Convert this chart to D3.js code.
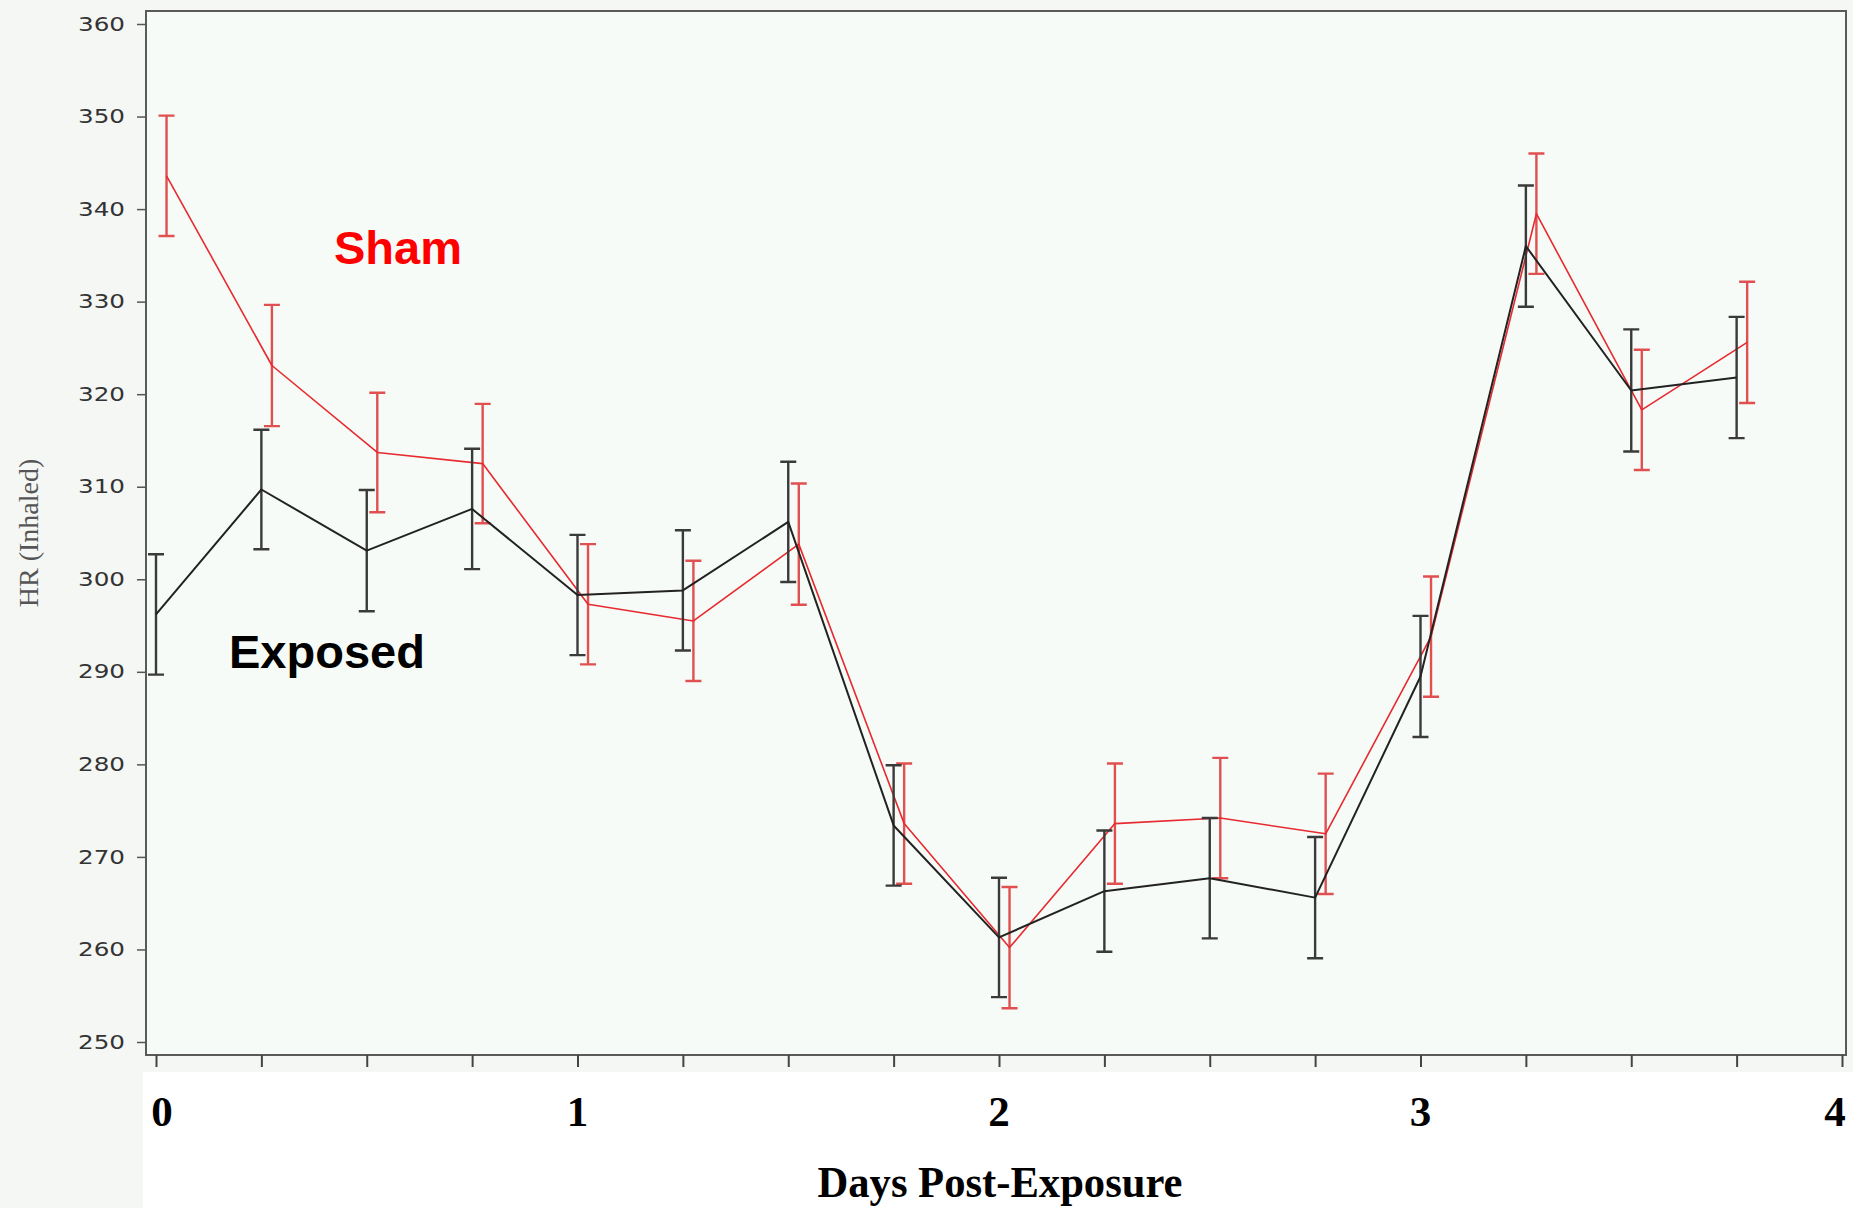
<!DOCTYPE html>
<html><head><meta charset="utf-8">
<script src="https://cdn.jsdelivr.net/npm/d3@7"></script>
<style>html,body{margin:0;padding:0;background:#f4f7f4;} svg{display:block}</style>
</head><body>
<svg id="c" width="1853" height="1208"></svg>
<script>
// ---- data ----
const days        = [0, 0.25, 0.5, 0.75, 1, 1.25, 1.5, 1.75, 2, 2.25, 2.5, 2.75, 3, 3.25, 3.5, 3.75];
const exposedMean = [296.2, 309.7, 303.1, 307.6, 298.3, 298.8, 306.2, 273.4, 261.3, 266.3, 267.7, 265.6, 289.5, 336.0, 320.4, 321.8];
const exposedSE   = [6.5, 6.45, 6.55, 6.5, 6.5, 6.5, 6.5, 6.5, 6.45, 6.55, 6.5, 6.55, 6.55, 6.55, 6.6, 6.55];
const shamMean    = [343.6, 323.1, 313.7, 312.5, 297.3, 295.5, 303.8, 273.6, 260.2, 273.6, 274.2, 272.5, 293.8, 339.5, 318.3, 325.6];
const shamSE      = [6.5, 6.55, 6.45, 6.45, 6.5, 6.5, 6.55, 6.5, 6.55, 6.5, 6.5, 6.5, 6.5, 6.5, 6.5, 6.55];
const yTickValues = [250, 260, 270, 280, 290, 300, 310, 320, 330, 340, 350, 360];
const xTickValues = [0, 0.25, 0.5, 0.75, 1, 1.25, 1.5, 1.75, 2, 2.25, 2.5, 2.75, 3, 3.25, 3.5, 3.75, 4];
const xTickLabels = [0, 1, 2, 3, 4];
const xTitle = "Days Post-Exposure";
const yTitle = "HR (Inhaled)";
const seriesLabels = ["Sham", "Exposed"];

// ---- layout ----
const svg = d3.select("#c");
const W = 1853, H = 1208;
const frame = {left: 146, right: 1846, top: 11, bottom: 1055};
const x = d3.scaleLinear().domain([0, 4]).range([156, 1842]);
const y = d3.scaleLinear().domain([250, 360]).range([1042, 24]);
const dodge = 0.025; // sham drawn slightly to the right

// backgrounds
svg.append("rect").attr("x",0).attr("y",0).attr("width",W).attr("height",H).attr("fill","#f4f7f4");
svg.append("rect").attr("x",143).attr("y",1072).attr("width",W-143).attr("height",H-1072).attr("fill","#ffffff");
svg.append("rect").attr("x",frame.left).attr("y",frame.top)
  .attr("width",frame.right-frame.left).attr("height",frame.bottom-frame.top)
  .attr("fill","#f7fbf7").attr("stroke","#5a5a5a").attr("stroke-width",2);

// y axis
const yAxis = d3.axisLeft(y).tickValues(yTickValues).tickSize(9).tickPadding(12);
const gy = svg.append("g").attr("transform",`translate(${frame.left},0)`).call(yAxis);
gy.select(".domain").remove();
gy.selectAll(".tick line").attr("stroke","#555").attr("stroke-width",1.5);
gy.selectAll(".tick text")
  .attr("font-family","'DejaVu Sans', Verdana, sans-serif").attr("font-size",19)
  .attr("fill","#333").attr("textLength",47).attr("lengthAdjust","spacingAndGlyphs");

// x axis
const xAxis = d3.axisBottom(x).tickValues(xTickValues).tickSize(12).tickFormat("");
const gx = svg.append("g").attr("transform",`translate(0,${frame.bottom})`).call(xAxis);
gx.select(".domain").remove();
gx.selectAll(".tick line").attr("stroke","#444").attr("stroke-width",2);

svg.append("g").selectAll("text").data(xTickLabels).join("text")
  .attr("x", d => Math.min(1835, Math.max(162, x(d)))).attr("y", 1126).attr("text-anchor","middle")
  .attr("font-family","'Liberation Serif','Times New Roman',serif").attr("font-weight","bold")
  .attr("font-size",43).attr("fill","#000").text(d => d);

svg.append("text").attr("x",1000).attr("y",1197).attr("text-anchor","middle")
  .attr("font-family","'Liberation Serif','Times New Roman',serif").attr("font-weight","bold")
  .attr("font-size",44).attr("fill","#000")
  .attr("textLength",365).attr("lengthAdjust","spacingAndGlyphs").text(xTitle);

svg.append("text").attr("transform","translate(38,533) rotate(-90)").attr("text-anchor","middle")
  .attr("font-family","'Liberation Serif','Times New Roman',serif")
  .attr("font-size",28).attr("fill","#555").text(yTitle);

// series
function drawSeries(means, se, off, lineColor, lineW, barColor, barW) {
  const pts = days.map((d,i) => ({d: d + off, m: means[i], s: se[i]}));
  const g = svg.append("g");
  const cap = 8;
  g.selectAll(".eb").data(pts).join("path")
    .attr("d", p => `M${x(p.d)},${y(p.m+p.s)}V${y(p.m-p.s)}` +
      `M${x(p.d)-cap},${y(p.m+p.s)}H${x(p.d)+cap}` +
      `M${x(p.d)-cap},${y(p.m-p.s)}H${x(p.d)+cap}`)
    .attr("fill","none").attr("stroke",barColor).attr("stroke-width",barW);
  const line = d3.line().x(p => x(p.d)).y(p => y(p.m));
  g.append("path").datum(pts).attr("d",line)
    .attr("fill","none").attr("stroke",lineColor).attr("stroke-width",lineW)
    .attr("stroke-linejoin","round");
}
drawSeries(shamMean, shamSE, dodge, "#e62a30", 1.6, "#e05050", 2.4);
drawSeries(exposedMean, exposedSE, 0, "#222222", 2, "#3a3a3a", 2.4);

// labels
svg.append("text").attr("x",334).attr("y",264)
  .attr("font-family","'Liberation Sans',Arial,sans-serif").attr("font-weight","bold")
  .attr("font-size",47).attr("fill","#ff0000").text(seriesLabels[0]);
svg.append("text").attr("x",229).attr("y",668)
  .attr("font-family","'Liberation Sans',Arial,sans-serif").attr("font-weight","bold")
  .attr("font-size",47).attr("fill","#000000").text(seriesLabels[1]);
</script>
</body></html>
